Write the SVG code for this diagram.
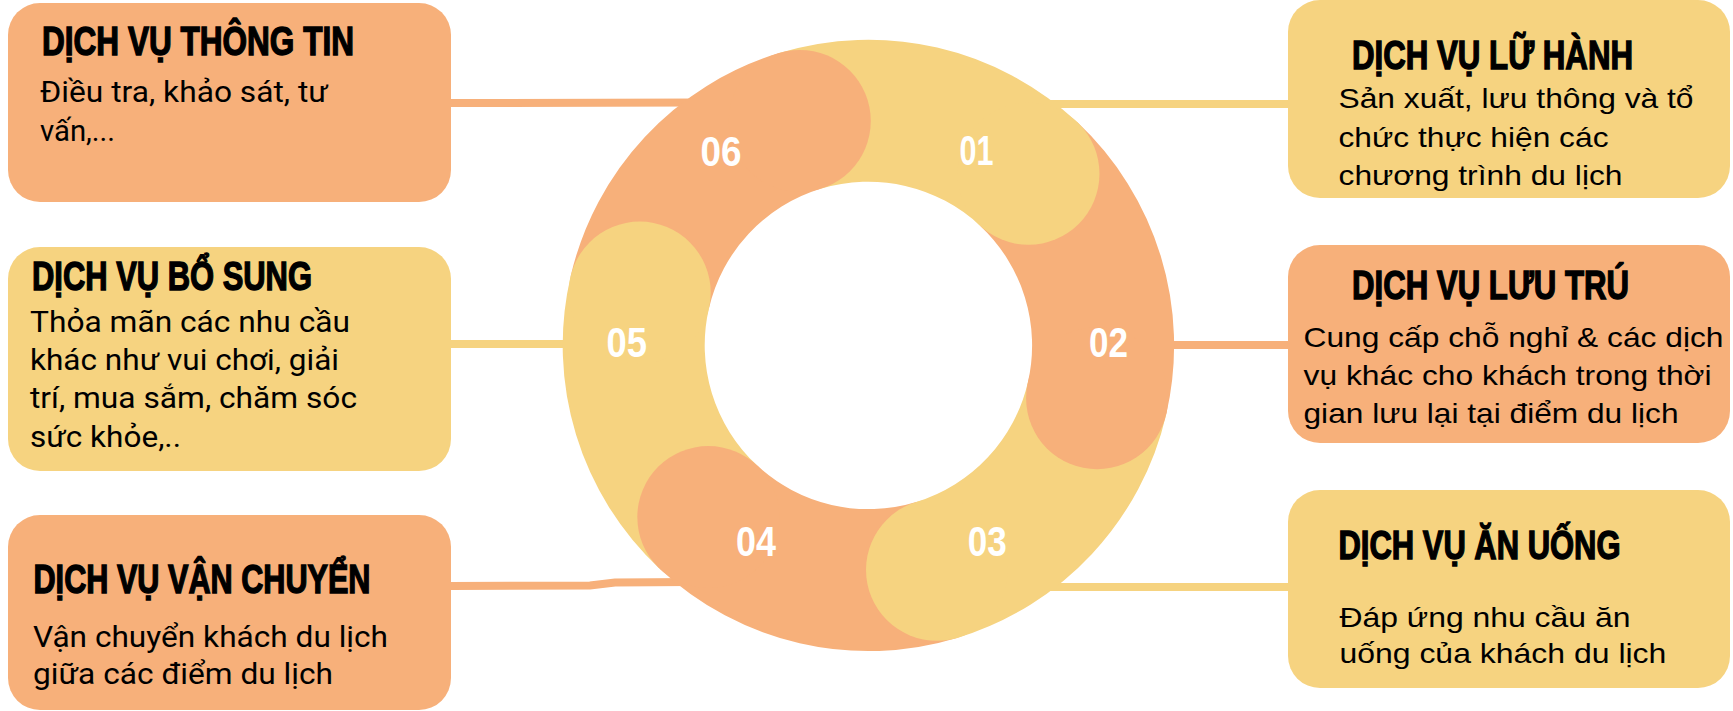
<svg xmlns="http://www.w3.org/2000/svg" width="1733" height="711" viewBox="0 0 1733 711">
<style>
.sal{fill:#F7B07A}
.yel{fill:#F6D380}
.lsal{stroke:#F7B07A;stroke-width:8;fill:none}
.lyel{stroke:#F6D380;stroke-width:8;fill:none}
.title{font-family:"Liberation Sans",Arial,sans-serif;font-weight:bold;font-size:40.5px;fill:#000;stroke:#000;stroke-width:1.4}
.bodyL{font-family:Roboto,"Liberation Sans",sans-serif;font-size:29px;fill:#000}
.bodyR{font-family:"Liberation Sans",Arial,sans-serif;font-size:28px;fill:#000}
.num{font-family:"Liberation Sans",Arial,sans-serif;font-weight:bold;font-size:43px;fill:#fff}
</style>
<rect width="1733" height="711" fill="#fff"/>
<g id="connectors">
<path class="lsal" d="M451 103 L700 102.5"/>
<path class="lyel" d="M451 344 L600 344"/>
<path class="lsal" d="M451 586 L590 585.5 L615 582.5 L690 582"/>
<path class="lyel" d="M1040 104 L1288 104"/>
<path class="lsal" d="M1150 345 L1288 345"/>
<path class="lyel" d="M1040 587 L1288 587"/>
</g>
<g id="ring">
<path id="seg01" class="yel" d="M779.02 53.06 A305.7 305.7 0 0 1 1076.89 121.83 L980.04 225.68 A163.7 163.7 0 0 0 820.54 188.85 Z"/>
<path id="seg02" class="sal" d="M1076.89 121.83 A305.7 305.7 0 0 1 1166.27 414.17 L1027.90 382.22 A163.7 163.7 0 0 0 980.04 225.68 Z"/>
<path id="seg03" class="yel" d="M1166.27 414.17 A305.7 305.7 0 0 1 957.78 637.74 L916.26 501.95 A163.7 163.7 0 0 0 1027.90 382.22 Z"/>
<path id="seg04" class="sal" d="M957.78 637.74 A305.7 305.7 0 0 1 659.91 568.97 L756.76 465.12 A163.7 163.7 0 0 0 916.26 501.95 Z"/>
<path id="seg05" class="yel" d="M659.91 568.97 A305.7 305.7 0 0 1 570.53 276.63 L708.90 308.58 A163.7 163.7 0 0 0 756.76 465.12 Z"/>
<path id="seg06" class="sal" d="M570.53 276.63 A305.7 305.7 0 0 1 779.02 53.06 L820.54 188.85 A163.7 163.7 0 0 0 708.90 308.58 Z"/>
<circle class="yel" cx="1028.47" cy="173.75" r="71"/>
<circle class="sal" cx="1097.09" cy="398.20" r="71"/>
<circle class="yel" cx="937.02" cy="569.84" r="71"/>
<circle class="sal" cx="708.33" cy="517.05" r="71"/>
<circle class="yel" cx="639.71" cy="292.60" r="71"/>
<circle class="sal" cx="799.78" cy="120.96" r="71"/>
<text class="num" x="959.6" y="165" textLength="34" lengthAdjust="spacingAndGlyphs">01</text>
<text class="num" x="1089" y="356.7" textLength="39" lengthAdjust="spacingAndGlyphs">02</text>
<text class="num" x="967.8" y="556" textLength="39" lengthAdjust="spacingAndGlyphs">03</text>
<text class="num" x="736" y="556" textLength="40" lengthAdjust="spacingAndGlyphs">04</text>
<text class="num" x="606.5" y="356.7" textLength="40.5" lengthAdjust="spacingAndGlyphs">05</text>
<text class="num" x="700.4" y="165.7" textLength="41" lengthAdjust="spacingAndGlyphs">06</text>
</g>
<g id="node-thongtin">
<rect class="sal" x="8" y="3" width="443" height="199" rx="32"/>
<text class="title" x="42" y="55" textLength="312" lengthAdjust="spacingAndGlyphs">DỊCH VỤ THÔNG TIN</text>
<text class="bodyL" x="40" y="102" textLength="288" lengthAdjust="spacingAndGlyphs">Điều tra, khảo sát, tư</text>
<text class="bodyL" x="40" y="141" textLength="75" lengthAdjust="spacingAndGlyphs">vấn,...</text>
</g>
<g id="node-bosung">
<rect class="yel" x="8" y="247" width="443" height="224" rx="32"/>
<text class="title" x="32" y="290" textLength="280" lengthAdjust="spacingAndGlyphs">DỊCH VỤ BỔ SUNG</text>
<text class="bodyL" x="30" y="332" textLength="320" lengthAdjust="spacingAndGlyphs">Thỏa mãn các nhu cầu</text>
<text class="bodyL" x="30" y="370" textLength="309" lengthAdjust="spacingAndGlyphs">khác như vui chơi, giải</text>
<text class="bodyL" x="30" y="408" textLength="327" lengthAdjust="spacingAndGlyphs">trí, mua sắm, chăm sóc</text>
<text class="bodyL" x="30" y="447" textLength="151" lengthAdjust="spacingAndGlyphs">sức khỏe,..</text>
</g>
<g id="node-vanchuyen">
<rect class="sal" x="8" y="515" width="443" height="195" rx="32"/>
<text class="title" x="33.5" y="593" textLength="337" lengthAdjust="spacingAndGlyphs">DỊCH VỤ VẬN CHUYỂN</text>
<text class="bodyL" x="33" y="647" textLength="355" lengthAdjust="spacingAndGlyphs">Vận chuyển khách du lịch</text>
<text class="bodyL" x="33" y="684" textLength="300" lengthAdjust="spacingAndGlyphs">giữa các điểm du lịch</text>
</g>
<g id="node-luhanh">
<rect class="yel" x="1288" y="0" width="442" height="198" rx="32"/>
<text class="title" x="1352" y="69" textLength="281" lengthAdjust="spacingAndGlyphs">DỊCH VỤ LỮ HÀNH</text>
<text class="bodyR" x="1338.5" y="108" textLength="355" lengthAdjust="spacingAndGlyphs">Sản xuất, lưu thông và tổ</text>
<text class="bodyR" x="1338.5" y="147" textLength="270" lengthAdjust="spacingAndGlyphs">chức thực hiện các</text>
<text class="bodyR" x="1338.5" y="185" textLength="284" lengthAdjust="spacingAndGlyphs">chương trình du lịch</text>
</g>
<g id="node-luutru">
<rect class="sal" x="1288" y="245" width="442" height="198" rx="32"/>
<text class="title" x="1352" y="299" textLength="277" lengthAdjust="spacingAndGlyphs">DỊCH VỤ LƯU TRÚ</text>
<text class="bodyR" x="1303.5" y="347" textLength="420" lengthAdjust="spacingAndGlyphs">Cung cấp chỗ nghỉ &amp; các dịch</text>
<text class="bodyR" x="1303.5" y="385" textLength="408" lengthAdjust="spacingAndGlyphs">vụ khác cho khách trong thời</text>
<text class="bodyR" x="1303.5" y="423" textLength="375" lengthAdjust="spacingAndGlyphs">gian lưu lại tại điểm du lịch</text>
</g>
<g id="node-anuong">
<rect class="yel" x="1288" y="490" width="442" height="198" rx="32"/>
<text class="title" x="1338.5" y="559" textLength="282" lengthAdjust="spacingAndGlyphs">DỊCH VỤ ĂN UỐNG</text>
<text class="bodyR" x="1339.4" y="627" textLength="291" lengthAdjust="spacingAndGlyphs">Đáp ứng nhu cầu ăn</text>
<text class="bodyR" x="1339.4" y="663" textLength="327" lengthAdjust="spacingAndGlyphs">uống của khách du lịch</text>
</g>
</svg>
